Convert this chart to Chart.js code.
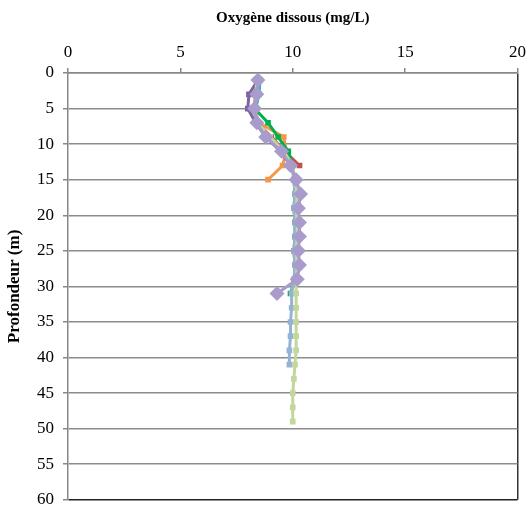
<!DOCTYPE html>
<html>
<head>
<meta charset="utf-8">
<script src="https://cdn.jsdelivr.net/npm/chart.js@4.4.0/dist/chart.umd.min.js"></script>
<style>
  body { margin: 0; background: #fff; }
  #wrap { width: 531px; height: 519px; }
</style>
</head>
<body>
<div id="wrap"><canvas id="myChart" width="531" height="519"></canvas></div>
<script>
"use strict";
// depth (m) for each profile
const depthsA = [1, 3, 5, 7, 9, 11, 13, 15, 17, 19, 21, 23, 25, 27, 29, 31];
const depthsB = [1, 3, 5, 7, 9, 11, 13, 15, 17, 19, 21, 23, 25, 27, 29, 31, 33, 35, 37, 39, 41, 43, 45, 47, 49];
const depthsC = [1, 3, 5, 7, 9, 11, 13, 15, 17, 19, 21, 23, 25, 27, 29, 31, 33, 35, 37, 39, 41];
const depthsD = [1, 3, 5, 7, 9, 11, 13, 15];
const depthsE = [1, 3, 5, 7, 9, 11, 13];

// dissolved oxygen (mg/L)
const oxyPurple = [8.45, 8.4, 8.3, 8.4, 8.8, 9.5, 9.9, 10.15, 10.35, 10.25, 10.3, 10.3, 10.25, 10.3, 10.2, 9.3];
const oxyLightGreen = [8.4, 8.35, 8.3, 8.45, 9.0, 9.6, 10.0, 10.1, 10.2, 10.15, 10.2, 10.2, 10.15, 10.2, 10.15, 10.15, 10.15, 10.15, 10.15, 10.15, 10.1, 10.05, 10.0, 10.0, 10.0];
const oxyLightBlue = [8.45, 8.4, 8.3, 8.4, 8.9, 9.55, 9.95, 10.05, 10.1, 10.05, 10.1, 10.1, 10.05, 10.1, 10.05, 9.95, 9.95, 9.9, 9.9, 9.85, 9.85];
const oxyGreen = [8.4, 8.35, 8.3, 8.9, 9.35, 9.8, 10.0, 10.05, 10.1, 10.05, 10.1, 10.1, 10.05, 10.1, 10.1, 9.9];
const oxyOrange = [8.4, 8.35, 8.3, 8.5, 9.6, 9.7, 9.55, 8.9];
const oxyRed = [8.4, 8.35, 8.3, 8.45, 9.05, 9.65, 10.3];
const oxyDarkPurple = [8.45, 8.05, 8.0, 8.35, 8.8, 9.45, 9.9];
const oxyTeal = [8.55, 8.5, 8.35, 8.4, 8.85, 9.5, 9.95];

function pts(xs, ys) {
  return xs.map((v, i) => ({ x: v, y: ys[i] }));
}

function serie(label, color, xs, ys, shape, r) {
  return {
    label: label,
    data: pts(xs, ys),
    showLine: true,
    borderColor: color,
    backgroundColor: color,
    borderWidth: 3,
    pointStyle: shape,
    pointRadius: r,
    pointHoverRadius: r,
    pointBorderWidth: 0
  };
}

const datasets = [
  serie("P8", "#A99BCB", oxyPurple, depthsA, "rectRot", 7.5),
  serie("P7", "#C3D69B", oxyLightGreen, depthsB, "rect", 4),
  serie("P6", "#95B3D7", oxyLightBlue, depthsC, "rect", 4),
  serie("P5", "#00B050", oxyGreen, depthsA, "rect", 4),
  serie("P4", "#4BACC6", oxyTeal, depthsE, "rect", 4),
  serie("P3", "#8064A2", oxyDarkPurple, depthsE, "rect", 4),
  serie("P2", "#C0504D", oxyRed, depthsE, "rect", 4),
  serie("P1", "#F79646", oxyOrange, depthsD, "rect", 4)
];

const font = "'Liberation Serif', 'Times New Roman', serif";

new Chart(document.getElementById("myChart"), {
  type: "scatter",
  data: { datasets: datasets },
  options: {
    responsive: false,
    animation: false,
    layout: { padding: { left: 4, right: 12, top: 0, bottom: 14 } },
    plugins: { legend: { display: false }, tooltip: { enabled: false } },
    scales: {
      x: {
        type: "linear",
        position: "top",
        min: 0,
        max: 20,
        ticks: { stepSize: 5, color: "#000", font: { family: font, size: 17 }, padding: 5 },
        grid: {
          color: ctx => (ctx.tick && ctx.tick.value === 20 ? "#333" : "rgba(0,0,0,0)"),
          tickColor: "#888",
          tickLength: 5,
          lineWidth: 1.5
        },
        border: { color: "#888", width: 1.5 },
        title: {
          display: true,
          text: "Oxygène dissous (mg/L)",
          color: "#000",
          font: { family: font, size: 15, weight: "bold" },
          padding: { top: 9, bottom: 6 }
        },
        afterFit: s => { s.height = 73; }
      },
      y: {
        type: "linear",
        reverse: true,
        min: 0,
        max: 60,
        ticks: { stepSize: 5, color: "#000", font: { family: font, size: 17 }, padding: 9 },
        grid: {
          color: ctx => (ctx.tick && ctx.tick.value === 60 ? "#222" : "#8c8c8c"),
          tickColor: "#888",
          tickLength: 5,
          lineWidth: 1.5
        },
        border: { color: "#888", width: 1.5 },
        title: {
          display: true,
          text: "Profondeur (m)",
          color: "#000",
          font: { family: font, size: 17, weight: "bold" },
          padding: { top: 0, bottom: 0 }
        },
        afterFit: s => { s.width = 64; }
      }
    }
  }
});
</script>
</body>
</html>
